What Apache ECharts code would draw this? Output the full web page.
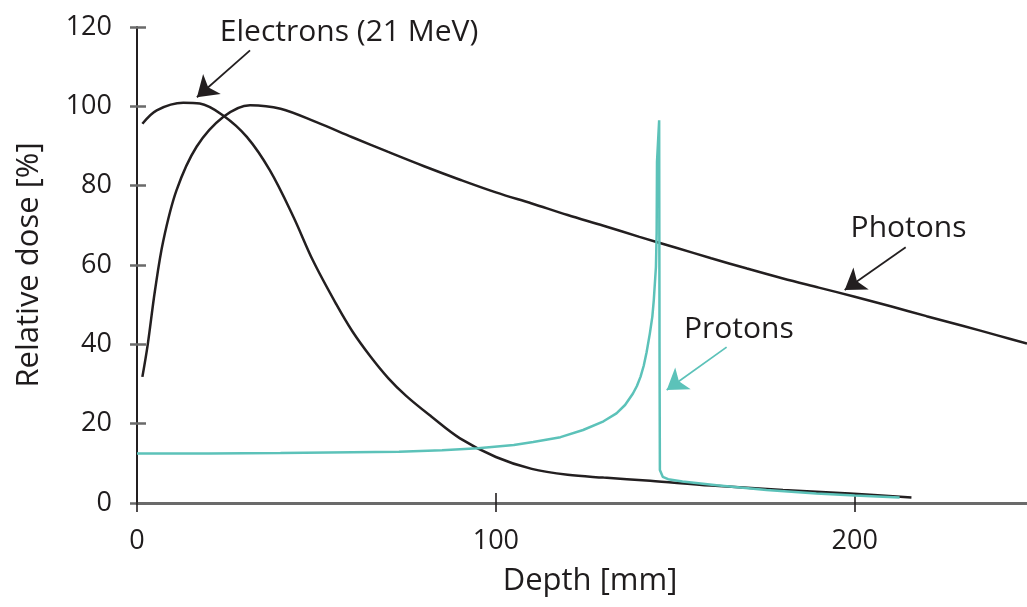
<!DOCTYPE html>
<html>
<head>
<meta charset="utf-8">
<script src="https://cdn.jsdelivr.net/npm/echarts@6/dist/echarts.min.js"></script>
<style>
html,body{margin:0;padding:0;background:#fff;}
#chart{width:1027px;height:607px;}
</style>
</head>
<body>
<div id="chart"></div>
<script>
// Depth [mm], relative dose [%]
const photons = [
  [1.5,31.8],[3,40],[5,53.5],[7.3,66],[11,78.8],[16.6,89.8],[24,97.3],[31.5,100.3],[40,99.4],
  [50,96.0],[60,92.2],[70,88.5],[80,84.9],[90,81.5],[100,78.3],[110,75.5],[120,72.6],[130,69.9],
  [140,67.1],[150,64.4],[160,61.7],[170,59.1],[180,56.6],[190,54.3],[200,52.0],[210,49.6],
  [220,47.1],[230,44.7],[240,42.2],[248,40.2]
];
const electrons = [
  [1.5,95.6],[5.5,99],[12.9,100.9],[17.5,100.7],[24,97.7],[30.6,92.3],[37,83.9],[43.5,72.3],
  [49.1,61],[55.6,50],[60,43.3],[65,37.0],[70,31.5],[75,27.0],[82,21.8],[90,16.3],[100,11.6],
  [110,8.6],[120,7.1],[130,6.4],[143,5.6],[160,4.4],[180,3.3],[198.6,2.4],[215.8,1.4]
];
const protons = [
  [0,12.5],[20,12.5],[40,12.6],[60,12.8],[73,12.9],[85,13.3],[95,13.8],[105,14.6],[110.4,15.4],
  [118,16.6],[124.3,18.4],[130,20.6],[133.6,22.6],[136,24.7],[138.2,27.6],[139.3,29.5],[140.3,31.8],
  [141.2,34.6],[142,38],[142.9,42.7],[143.6,47],[144,51.1],[144.6,59.5],[144.8,68],[144.9,86],[145.5,96.5],
  [145.6,40],[145.7,8.3],[146.5,6.6],[148,6],[152,5.4],[161.5,4.5],[175.4,3.3],[189.3,2.4],
  [200,1.9],[212.5,1.4]
];
const xTicks = [0, 100, 200];
const yTicks = [0, 20, 40, 60, 80, 100, 120];
// annotations: text and its anchor (data space), arrow start and tip (data space)
const noteTexts = ['Electrons (21 MeV)', 'Photons', 'Protons'];
const noteAnchors = [[59.1, 118.6], [215.0, 69.3], [167.7, 43.8]];
const arrowStarts = [[31.5, 114.1], [214.2, 64.5], [164.3, 39.3]];
const arrowTips = [[16.7, 102.3], [197.2, 53.7], [147.6, 28.5]];

const FONT = 'Open Sans';
const TXT = '#1f1c1d';
const TEAL = '#5cc2b9';

const chart = echarts.init(document.getElementById('chart'), null, {renderer: 'canvas'});

function arrow(i) {
  return [{coord: arrowStarts[i], symbol: 'none'}, {coord: arrowTips[i], symbol: 'arrow'}];
}
function note(i) {
  return {coord: noteAnchors[i], symbol: 'rect', symbolSize: 1, itemStyle: {color: 'rgba(0,0,0,0)'},
    label: {show: true, position: 'inside', formatter: noteTexts[i], color: TXT,
      fontFamily: FONT, fontSize: 30}};
}
const markLineBase = {
  silent: true, animation: false, symbol: ['none', 'arrow'], symbolSize: 20,
  label: {show: false}, emphasis: {disabled: true}
};

chart.setOption({
  animation: false,
  grid: {left: 137, right: 0, top: 27, bottom: 104},
  xAxis: [{
    type: 'value', min: 0, max: 248, interval: 100,
    name: 'Depth [mm]', nameLocation: 'middle', nameGap: 63,
    nameTextStyle: {fontFamily: FONT, fontSize: 31, color: TXT, padding: [0, 0, 0, 16]},
    axisLine: {show: true, onZero: false, lineStyle: {color: '#6a6a6a', width: 3}},
    axisTick: {show: true, length: 9, customValues: xTicks, lineStyle: {color: '#231f20', width: 1.6}},
    axisLabel: {margin: 25, customValues: xTicks, fontFamily: FONT, fontSize: 27, color: TXT},
    splitLine: {show: false}
  }, {
    type: 'value', min: 0, max: 248, interval: 100, position: 'bottom',
    axisLine: {show: false, onZero: false},
    axisTick: {show: true, inside: true, length: 10, customValues: xTicks, lineStyle: {color: '#231f20', width: 1.6}},
    axisLabel: {show: false}, splitLine: {show: false}
  }],
  yAxis: [{
    type: 'value', min: 0, max: 120, interval: 20,
    name: 'Relative dose [%]', nameLocation: 'middle', nameGap: 92,
    nameTextStyle: {fontFamily: FONT, fontSize: 31, color: TXT},
    axisLine: {show: true, lineStyle: {color: '#231f20', width: 2}},
    axisTick: {show: true, length: 7, customValues: yTicks, lineStyle: {color: '#6a6a6a', width: 2.5}},
    axisLabel: {margin: 25, customValues: yTicks, fontFamily: FONT, fontSize: 27, color: TXT},
    splitLine: {show: false}
  }, {
    type: 'value', min: 0, max: 120, interval: 20, position: 'left',
    axisLine: {show: false},
    axisTick: {show: true, inside: true, length: 9, customValues: yTicks, lineStyle: {color: '#6a6a6a', width: 2.5}},
    axisLabel: {show: false}, splitLine: {show: false}
  }],
  series: [{
    name: 'Electrons', type: 'line', data: electrons, showSymbol: false, smooth: 0.35,
    lineStyle: {color: '#231f20', width: 2.5}, silent: true,
    markLine: Object.assign({}, markLineBase, {lineStyle: {color: '#231f20', width: 1.8, type: 'solid'}, data: [arrow(0)]}),
    markPoint: {silent: true, animation: false, data: [note(0)]}
  }, {
    name: 'Photons', type: 'line', data: photons, showSymbol: false, smooth: 0.35,
    lineStyle: {color: '#231f20', width: 2.5}, silent: true,
    markLine: Object.assign({}, markLineBase, {lineStyle: {color: '#231f20', width: 1.8, type: 'solid'}, data: [arrow(1)]}),
    markPoint: {silent: true, animation: false, data: [note(1)]}
  }, {
    name: 'Protons', type: 'line', data: protons, showSymbol: false, smooth: false,
    lineStyle: {color: TEAL, width: 2.5}, silent: true,
    markLine: Object.assign({}, markLineBase, {lineStyle: {color: TEAL, width: 1.8, type: 'solid'}, itemStyle: {color: TEAL}, data: [arrow(2)]}),
    markPoint: {silent: true, animation: false, data: [note(2)]}
  }]
});
</script>
</body>
</html>
